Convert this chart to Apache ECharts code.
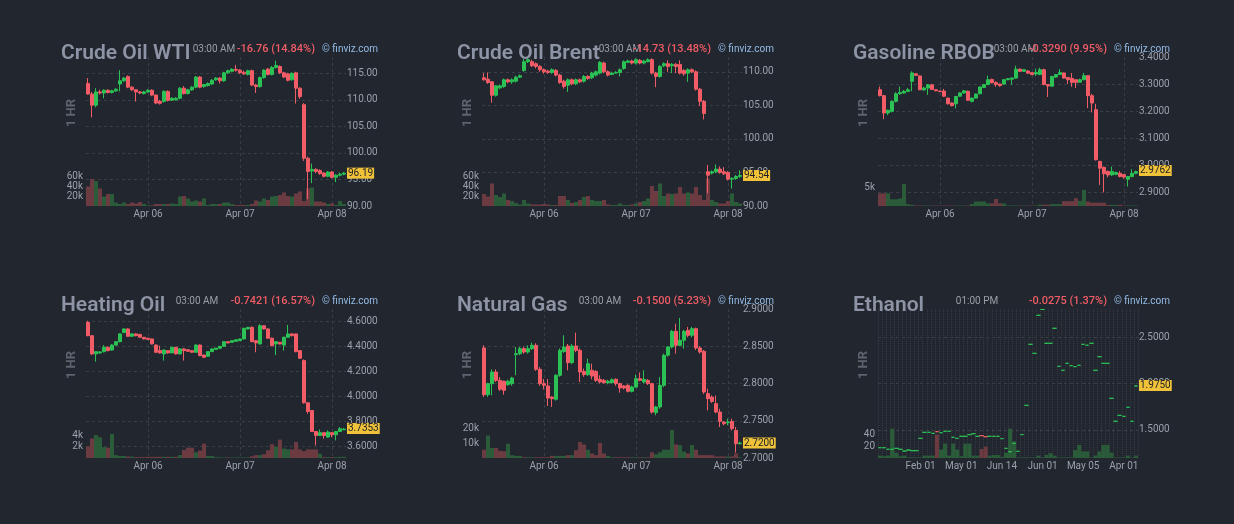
<!DOCTYPE html>
<html>
<head>
<meta charset="utf-8">
<title>Energy futures</title>
<script src="https://cdn.jsdelivr.net/npm/echarts@6.0.0/dist/echarts.min.js"></script>
<style>
  html, body { margin: 0; padding: 0; background: #22262e; }
  #chart { width: 1234px; height: 524px; }
</style>
</head>
<body>
<div id="chart"></div>
<script>
// hourly candles [open, close, low, high]
const wtiOhlc = [
  [113.1,111.1,111.0,114.1],[111.1,109.0,106.7,111.5],[109.0,111.5,108.6,112.2],[111.5,111.3,111.0,111.9],
  [111.3,111.8,110.3,112.0],[111.8,111.4,111.2,112.0],[111.4,111.7,111.2,111.9],[111.7,112.0,111.5,112.2],
  [113.0,113.6,111.6,115.6],[113.6,114.1,113.4,114.3],[114.4,112.4,112.2,114.6],[112.4,111.9,111.7,112.6],
  [111.9,111.5,109.7,112.0],[111.5,111.3,111.1,111.7],[111.2,111.5,111.0,111.7],[111.5,111.8,111.3,112.0],
  [111.8,110.9,110.7,112.0],[110.9,109.4,109.2,111.0],[109.7,109.35,109.1,110.0],[109.7,111.6,109.5,111.8],
  [111.6,109.9,109.7,111.8],[109.95,110.3,109.8,110.5],[110.0,110.3,109.9,110.5],[110.3,112.2,110.1,112.4],
  [112.2,111.2,111.0,112.6],[111.2,111.9,111.0,112.1],[111.9,112.4,111.7,112.6],[112.4,114.3,112.2,114.5],
  [114.3,112.4,112.2,114.5],[112.5,112.9,112.3,113.0],[112.7,113.1,112.5,113.3],[113.0,113.7,112.8,113.9],
  [113.8,114.1,113.6,114.3],[114.1,113.6,113.1,114.3],[113.6,115.1,113.4,115.3],[115.1,115.5,114.9,115.7],
  [115.4,115.75,115.2,116.0],[115.75,115.6,115.3,116.6],[115.6,115.1,114.9,115.8],[115.2,114.9,114.7,115.5],
  [114.8,115.5,114.6,115.7],[115.5,112.8,112.6,115.7],[112.8,112.5,111.3,113.0],[112.5,114.2,112.3,114.4],
  [114.2,115.6,114.0,115.8],[115.8,114.8,114.6,116.0],[114.8,116.1,114.6,116.4],[116.1,116.5,115.9,117.4],
  [116.3,115.1,114.9,116.5],[115.1,114.3,114.1,115.3],[114.9,113.7,113.5,115.1],[113.8,115.0,113.6,115.2],
  [115.1,112.2,109.3,115.3],[112.2,110.6,110.2,112.4],[109.1,99.0,98.5,109.4],[99.0,96.5,91.3,99.3],
  [96.6,96.9,94.3,98.0],[96.9,96.5,96.2,97.1],[96.7,96.1,95.9,96.9],[96.2,95.6,95.4,96.4],
  [95.6,96.4,95.4,96.6],[96.4,95.4,95.2,96.6],[95.4,95.8,94.5,96.0],[95.8,96.0,95.6,96.3],
  [96.0,96.19,95.8,96.4]
];
const wtiVolume = [
  39000,54000,50000,35000,19000,24000,24000,7000,4000,7000,4000,7000,5000,8000,4000,1500,
  1500,4000,4000,4000,4000,5000,4000,19000,20000,15000,9000,11000,9000,15000,2000,4000,
  4000,4000,7000,7000,4000,2000,2000,2000,2000,4000,11000,9000,15000,12000,19000,20000,
  22000,27000,20000,19000,25000,29000,10000,35000,37000,9000,9000,7000,4000,5000,2000,10000,
  4000
];

const brentOhlc = [
  [109.1,108.8,108.7,109.8],[108.9,108.4,108.2,109.9],[108.5,106.5,105.4,108.6],[106.5,107.9,106.3,108.0],
  [107.6,107.9,107.4,108.1],[107.8,108.8,107.6,109.0],[108.8,108.5,108.3,109.0],[108.5,108.8,108.2,109.0],
  [108.6,109.2,108.4,109.4],[109.2,109.4,109.1,109.6],[110.2,111.5,110.0,111.9],[111.5,111.8,111.3,112.0],
  [111.5,110.9,110.7,111.8],[111.2,110.8,110.5,111.4],[110.8,110.3,110.0,111.0],[110.3,110.0,109.7,110.5],
  [110.1,109.9,109.7,110.3],[109.9,110.3,109.7,110.5],[110.2,109.5,109.3,110.4],[109.5,108.4,108.2,109.7],
  [108.6,107.8,107.5,108.8],[108.0,108.8,107.0,109.0],[108.8,108.2,108.0,109.0],[108.2,108.8,108.0,109.0],
  [108.8,108.5,108.3,109.0],[108.6,109.3,108.4,109.5],[109.3,109.0,108.8,109.5],[109.1,109.8,108.9,110.0],
  [109.5,110.0,109.3,110.2],[109.8,111.4,109.6,111.6],[111.3,110.0,109.8,111.5],[110.0,109.5,109.3,110.2],
  [109.6,109.8,109.5,110.0],[109.8,109.9,109.7,110.1],[109.9,110.3,109.3,110.5],[110.5,111.5,110.3,111.7],
  [111.4,111.6,111.3,111.8],[111.6,111.3,111.1,111.8],[111.3,111.8,111.1,112.0],[111.7,111.3,111.1,111.9],
  [111.3,111.6,111.1,111.8],[111.5,111.8,111.4,112.0],[111.8,109.8,109.6,112.0],[109.8,109.3,107.7,110.0],
  [109.3,110.8,109.1,111.0],[110.9,111.2,110.7,111.4],[111.2,110.8,110.0,111.7],[110.9,111.1,109.8,111.3],
  [111.1,110.8,109.8,111.3],[111.1,109.8,109.6,111.7],[110.2,109.7,109.4,110.4],[109.8,110.3,108.5,110.5],
  [110.3,110.0,109.8,110.5],[110.0,107.4,107.2,110.2],[107.4,105.6,104.9,107.6],[105.6,103.8,102.9,105.8],
  [95.1,94.6,91.9,96.1],[94.9,95.1,94.7,95.3],[95.1,95.5,94.9,96.2],[95.5,95.0,94.8,95.9],
  [95.1,94.8,94.6,95.8],[95.0,94.0,93.8,95.2],[94.0,94.1,92.6,94.3],[94.1,94.4,93.9,94.6],
  [94.4,94.54,94.2,95.3]
];
const brentVolume = [
  24000,19000,45000,22000,18000,25000,12000,10000,6000,3000,12000,5000,3000,3000,3000,4000,
  3000,2000,2000,20000,20000,12000,6000,8000,12000,18000,20000,12000,10000,10000,12000,3000,
  2000,2000,5000,2000,2000,3000,5000,8000,10000,15000,40000,30000,45000,20000,25000,24000,
  25000,38000,25000,27000,25000,38000,22000,12000,55000,12000,8000,5000,5000,10000,25000,8000,
  5000
];

const gasolineOhlc = [
  [3.279,3.257,3.254,3.291],[3.257,3.193,3.170,3.260],[3.193,3.203,3.185,3.205],[3.199,3.236,3.195,3.240],
  [3.236,3.264,3.232,3.270],[3.264,3.269,3.260,3.291],[3.267,3.273,3.264,3.278],[3.273,3.279,3.270,3.285],
  [3.310,3.341,3.273,3.347],[3.338,3.332,3.330,3.340],[3.330,3.279,3.277,3.332],[3.278,3.285,3.276,3.290],
  [3.285,3.297,3.260,3.300],[3.297,3.280,3.278,3.300],[3.279,3.275,3.273,3.281],[3.274,3.272,3.270,3.276],
  [3.274,3.255,3.252,3.282],[3.248,3.227,3.224,3.250],[3.230,3.220,3.218,3.232],[3.227,3.254,3.210,3.256],
  [3.255,3.267,3.253,3.270],[3.267,3.275,3.264,3.278],[3.273,3.240,3.238,3.276],[3.236,3.248,3.232,3.250],
  [3.248,3.263,3.246,3.265],[3.264,3.289,3.262,3.292],[3.287,3.298,3.285,3.300],[3.298,3.316,3.296,3.331],
  [3.317,3.305,3.302,3.320],[3.306,3.298,3.290,3.310],[3.300,3.294,3.290,3.302],[3.300,3.316,3.298,3.318],
  [3.316,3.320,3.314,3.322],[3.318,3.322,3.297,3.325],[3.322,3.355,3.320,3.368],[3.355,3.347,3.345,3.358],
  [3.347,3.353,3.345,3.356],[3.348,3.340,3.338,3.352],[3.342,3.335,3.333,3.345],[3.337,3.343,3.330,3.357],
  [3.335,3.353,3.333,3.360],[3.353,3.298,3.296,3.357],[3.298,3.293,3.252,3.300],[3.292,3.328,3.290,3.330],
  [3.326,3.335,3.322,3.337],[3.335,3.343,3.333,3.355],[3.341,3.322,3.320,3.343],[3.324,3.316,3.300,3.326],
  [3.321,3.306,3.290,3.341],[3.316,3.306,3.285,3.318],[3.307,3.316,3.305,3.320],[3.316,3.331,3.314,3.341],
  [3.331,3.257,3.211,3.333],[3.257,3.230,3.195,3.264],[3.205,3.020,3.017,3.227],[3.014,2.989,2.927,3.016],
  [2.992,2.968,2.899,2.995],[2.977,2.964,2.955,2.980],[2.964,2.977,2.960,2.995],[2.966,2.973,2.963,2.976],
  [2.970,2.958,2.955,2.978],[2.965,2.956,2.950,2.967],[2.948,2.958,2.921,2.960],[2.958,2.970,2.955,2.985],
  [2.970,2.9762,2.966,2.980]
];
const gasolineVolume = [
  3400,3400,3400,1800,1800,2000,5900,500,300,150,150,150,150,100,100,100,
  100,120,120,120,120,120,150,500,1200,1200,1200,700,700,1900,700,700,
  150,150,120,120,120,120,120,120,350,350,350,500,500,500,1300,1300,
  1300,2100,1400,4300,1200,900,900,900,900,300,300,300,300,120,120,120,
  120
];

const heatingOhlc = [
  [4.592,4.485,4.480,4.605],[4.485,4.339,4.330,4.490],[4.339,4.357,4.277,4.360],[4.347,4.355,4.340,4.360],
  [4.357,4.392,4.350,4.410],[4.392,4.365,4.360,4.400],[4.370,4.410,4.365,4.415],[4.410,4.437,4.405,4.440],
  [4.437,4.499,4.430,4.505],[4.510,4.539,4.505,4.545],[4.539,4.480,4.475,4.545],[4.480,4.499,4.475,4.505],
  [4.499,4.485,4.480,4.505],[4.495,4.472,4.470,4.500],[4.472,4.459,4.455,4.475],[4.465,4.455,4.450,4.468],
  [4.459,4.419,4.415,4.462],[4.410,4.352,4.345,4.415],[4.365,4.347,4.340,4.405],[4.339,4.370,4.285,4.375],
  [4.365,4.347,4.340,4.370],[4.347,4.392,4.345,4.395],[4.392,4.339,4.335,4.395],[4.339,4.379,4.335,4.385],
  [4.379,4.365,4.285,4.385],[4.372,4.360,4.355,4.375],[4.365,4.352,4.348,4.370],[4.352,4.410,4.350,4.415],
  [4.410,4.325,4.320,4.415],[4.330,4.312,4.305,4.333],[4.320,4.357,4.315,4.360],[4.357,4.379,4.355,4.382],
  [4.375,4.385,4.372,4.388],[4.384,4.400,4.380,4.402],[4.400,4.437,4.395,4.440],[4.437,4.427,4.425,4.440],
  [4.432,4.445,4.430,4.448],[4.440,4.452,4.437,4.455],[4.445,4.459,4.442,4.460],[4.459,4.544,4.455,4.548],
  [4.539,4.552,4.535,4.555],[4.552,4.437,4.435,4.560],[4.445,4.427,4.352,4.450],[4.419,4.565,4.415,4.579],
  [4.565,4.539,4.535,4.570],[4.539,4.465,4.460,4.545],[4.465,4.405,4.400,4.470],[4.419,4.437,4.330,4.440],
  [4.432,4.419,4.415,4.435],[4.410,4.472,4.365,4.478],[4.472,4.499,4.470,4.572],[4.499,4.485,4.480,4.505],
  [4.499,4.357,4.352,4.502],[4.365,4.304,4.300,4.370],[4.285,3.947,3.940,4.295],[3.947,3.877,3.859,3.950],
  [3.885,3.717,3.712,3.888],[3.717,3.685,3.605,3.720],[3.685,3.707,3.680,3.733],[3.707,3.685,3.659,3.710],
  [3.672,3.712,3.665,3.725],[3.707,3.691,3.672,3.710],[3.691,3.717,3.645,3.720],[3.717,3.739,3.715,3.752],
  [3.730,3.7353,3.728,3.745]
];
const heatingVolume = [
  2000,3400,4000,3600,1900,1800,4200,500,350,350,250,250,150,150,150,200,
  200,200,200,200,200,200,200,500,1400,1800,1800,1000,1300,2500,350,350,
  150,100,100,100,100,100,100,100,100,300,500,500,650,1350,2400,2000,
  3200,1650,1500,1500,2800,1500,1200,1500,1500,1500,750,150,150,150,150,200,
  200
];

const gasOhlc = [
  [2.8477,2.7850,2.7820,2.8512],[2.7850,2.7998,2.7820,2.8010],[2.7998,2.8154,2.7840,2.8190],[2.8154,2.8042,2.8020,2.8190],
  [2.8042,2.7922,2.7900,2.8087],[2.8030,2.7908,2.7850,2.8040],[2.7985,2.8030,2.7970,2.8050],[2.7998,2.8074,2.7970,2.8090],
  [2.8387,2.8400,2.8110,2.8490],[2.8400,2.8468,2.8380,2.8490],[2.8468,2.8423,2.8400,2.8495],[2.8423,2.8468,2.8400,2.8512],
  [2.8468,2.8512,2.8450,2.8550],[2.8512,2.8190,2.8170,2.8540],[2.8190,2.7998,2.7970,2.8220],[2.7998,2.7975,2.7920,2.8060],
  [2.7967,2.7805,2.7698,2.8060],[2.7818,2.7796,2.7685,2.7830],[2.7788,2.8110,2.7770,2.8125],[2.8110,2.8445,2.8090,2.8470],
  [2.8430,2.8490,2.8410,2.8647],[2.8503,2.8280,2.8177,2.8530],[2.8280,2.8503,2.8260,2.8530],[2.8503,2.8445,2.8420,2.8683],
  [2.8445,2.8154,2.8020,2.8470],[2.8163,2.8119,2.8090,2.8200],[2.8119,2.8266,2.8100,2.8333],[2.8177,2.8100,2.8056,2.8266],
  [2.8163,2.8042,2.8020,2.8177],[2.8056,2.8020,2.8000,2.8110],[2.8042,2.8011,2.8000,2.8060],[2.8011,2.8030,2.7990,2.8050],
  [2.8011,2.8050,2.8000,2.8070],[2.8056,2.7998,2.7970,2.8070],[2.7998,2.7940,2.7877,2.8010],[2.7967,2.7940,2.7920,2.7980],
  [2.7975,2.7895,2.7880,2.7990],[2.7895,2.7953,2.7880,2.7970],[2.7953,2.8065,2.7940,2.8120],[2.8065,2.8042,2.8030,2.8150],
  [2.8020,2.8056,2.8000,2.8177],[2.8042,2.7998,2.7980,2.8060],[2.7998,2.7617,2.7595,2.8010],[2.7610,2.7685,2.7573,2.7700],
  [2.7685,2.7975,2.7660,2.8087],[2.7975,2.8378,2.7950,2.8400],[2.8380,2.8490,2.8360,2.8500],[2.8490,2.8700,2.8470,2.8720],
  [2.8700,2.8512,2.8400,2.8803],[2.8512,2.8580,2.8500,2.8880],[2.8580,2.8700,2.8468,2.8720],[2.8714,2.8647,2.8620,2.8760],
  [2.8647,2.8736,2.8620,2.8760],[2.8736,2.8477,2.8450,2.8750],[2.8477,2.8423,2.8400,2.8503],[2.8432,2.7886,2.7860,2.8450],
  [2.7864,2.7796,2.7640,2.7931],[2.7818,2.7760,2.7740,2.7840],[2.7730,2.7617,2.7600,2.7840],[2.7617,2.7492,2.7416,2.7660],
  [2.7483,2.7460,2.7440,2.7495],[2.7474,2.7483,2.7438,2.7528],[2.7492,2.7394,2.7370,2.7528],[2.7371,2.7192,2.7072,2.7416],
  [2.7192,2.7200,2.7180,2.7220]
];
const gasVolume = [
  5500,15000,6700,6700,4800,4500,9500,1900,1400,1400,500,500,500,500,500,500,
  500,1400,1400,1400,1400,1900,1900,5200,10700,9000,5500,3000,1900,10000,3000,1400,
  500,500,500,500,500,500,500,500,500,500,3800,2400,3800,5500,5500,18600,
  9000,8600,4300,3000,8600,5500,1900,1900,1900,1900,1000,1000,1000,1000,1000,3000,
  500
];

// ethanol: one settlement per bar, drawn as a flat dash
const ethanolClose = [
  1.309,1.309,1.292,1.292,1.302,1.292,1.273,1.284,1.277,1.277,
  1.410,1.475,1.475,1.464,1.482,1.471,1.486,1.486,1.421,1.410,
  1.432,1.432,1.450,1.460,1.432,1.439,1.428,1.432,1.432,1.432,
  1.407,1.302,1.266,1.356,1.270,1.450,1.766,2.424,2.327,2.737,
  2.800,2.435,2.435,2.597,2.187,2.144,2.219,2.194,2.183,2.198,
  2.424,2.414,2.435,2.144,2.291,2.219,2.219,1.842,1.594,1.658,
  1.647,1.745,1.594,1.975
];
const ethanolDown = [14, 25, 26];
const ethanolVolume = [
  4,3,4,49,9,3,4,1,1,1,1,4,4,4,39,14,24,4,24,14,3,24,24,4,4,15,19,4,5,5,2,9,
  49,28,1,1,1,1,1,4,1,5,8,4,1,1,1,1,13,22,11,11,1,4,11,22,22,9,1,1,1,4,1,4
];

const energyTickIndex = [15, 38, 61];
const energyTickLabels = ['Apr 06', 'Apr 07', 'Apr 08'];
const ethanolTickIndex = [10, 20, 30, 40, 50, 60];
const ethanolTickLabels = ['Feb 01', 'May 01', 'Jun 14', 'Jun 01', 'May 05', 'Apr 01'];

const UP = '#2bc155';
const DOWN = '#f25c66';
const VOL_UP = '#2a5c39';
const VOL_DOWN = '#6c3b41';
const GRID_LINE = '#3a3e47';
const AXIS_TEXT = '#9ba0aa';
const TITLE_TEXT = '#8c94a5';

const panels = [
  { title: 'Crude Oil WTI', time: '03:00 AM', timeX: 214, change: '-16.76 (14.84%)', col: 0, row: 0,
    ohlc: wtiOhlc, volume: wtiVolume, min: 90, max: 118.08, split: 6, step: 5, digits: 2,
    volMax: 80000, volStep: 20000, volTop: 60000, ticks: energyTickIndex, tickLabels: energyTickLabels },
  { title: 'Crude Oil Brent', time: '03:00 AM', timeX: 620, change: '-14.73 (13.48%)', col: 1, row: 0,
    ohlc: brentOhlc, volume: brentVolume, min: 90, max: 112.2, split: 5, step: 5, digits: 2,
    volMax: 80000, volStep: 20000, volTop: 60000, ticks: energyTickIndex, tickLabels: energyTickLabels },
  { title: 'Gasoline RBOB', time: '03:00 AM', timeX: 1015, change: '-0.3290 (9.95%)', col: 2, row: 0,
    ohlc: gasolineOhlc, volume: gasolineVolume, min: 2.849, max: 3.4, split: 5, step: 0.1, digits: 4,
    volMax: 10700, volStep: 5000, volTop: 5000, ticks: energyTickIndex, tickLabels: energyTickLabels },
  { title: 'Heating Oil', time: '03:00 AM', timeX: 197, change: '-0.7421 (16.57%)', col: 0, row: 1,
    ohlc: heatingOhlc, volume: heatingVolume, min: 3.504, max: 4.699, split: 6, step: 0.2, digits: 4,
    volMax: 6960, volStep: 2000, volTop: 4000, ticks: energyTickIndex, tickLabels: energyTickLabels },
  { title: 'Natural Gas', time: '03:00 AM', timeX: 600, change: '-0.1500 (5.23%)', col: 1, row: 1,
    ohlc: gasOhlc, volume: gasVolume, min: 2.7, max: 2.9, split: 4, step: 0.05, digits: 4,
    volMax: 26670, volStep: 10000, volTop: 20000, ticks: energyTickIndex, tickLabels: energyTickLabels },
  { title: 'Ethanol', time: '01:00 PM', timeX: 977, change: '-0.0275 (1.37%)', col: 2, row: 1,
    ohlc: null, volume: ethanolVolume, min: 1.198, max: 2.805, split: 3, step: 0.5, digits: 4,
    volMax: 66.7, volStep: 20, volTop: 40, ticks: ethanolTickIndex, tickLabels: ethanolTickLabels,
    dotted: true }
];

const COL_X = [0, 396, 792];
const ROW_Y = [0, 252];

function isStep(v, step) {
  const r = v / step;
  return Math.abs(r - Math.round(r)) < 1e-6;
}

function ethanolItems() {
  return ethanolClose.map((c, i) => {
    const col = ethanolDown.includes(i) ? DOWN : UP;
    return {
      value: [c, c, c, c],
      itemStyle: { color: col, color0: col, borderColor: col, borderColor0: col, borderColorDoji: col }
    };
  });
}

const grid = [], xAxis = [], yAxis = [], series = [], graphic = [];

panels.forEach((p, k) => {
  const cx = COL_X[p.col], ry = ROW_Y[p.row];
  const left = 86 + cx, top = 57 + ry;
  const candles = p.ohlc ? p.ohlc : ethanolItems();
  const count = candles.length;
  const cats = Array.from({ length: count }, (_, i) => i);
  const lastVal = p.ohlc ? p.ohlc[count - 1][1] : ethanolClose[count - 1];

  grid.push({ left: left, top: top, width: 260, height: 149 });
  grid.push({ left: left, top: top + 109, width: 260, height: 40 });

  xAxis.push({
    type: 'category', gridIndex: 2 * k, data: cats, boundaryGap: true,
    axisLine: { show: false }, axisTick: { show: false },
    axisLabel: {
      show: true, interval: (i) => p.ticks.includes(i), margin: 3,
      color: AXIS_TEXT, fontSize: 10, fontFamily: 'Roboto',
      formatter: (v) => {
        const j = p.ticks.indexOf(Number(v));
        return j >= 0 ? p.tickLabels[j] : '';
      }
    },
    splitLine: p.dotted
      ? { show: true, interval: 0, lineStyle: { color: '#353943', type: 'dotted', width: 1 } }
      : { show: true, interval: (i) => p.ticks.includes(i), alignWithLabel: true,
          lineStyle: { color: GRID_LINE, type: [3, 3], width: 1 } }
  });
  xAxis.push({
    type: 'category', gridIndex: 2 * k + 1, data: cats, boundaryGap: true, show: false
  });

  yAxis.push({
    type: 'value', gridIndex: 2 * k, position: 'right', min: p.min, max: p.max, splitNumber: p.split,
    scale: true,
    axisLine: { show: false }, axisTick: { show: false },
    axisLabel: {
      margin: 1, color: AXIS_TEXT, fontSize: 10, fontFamily: 'Roboto',
      formatter: (v) => isStep(v, p.step) ? v.toFixed(p.digits) : ''
    },
    splitLine: { show: true, showMinLine: false, showMaxLine: false,
      lineStyle: { color: GRID_LINE, type: [3, 3], width: 1 } }
  });
  yAxis.push({
    type: 'value', gridIndex: 2 * k + 1, position: 'left', min: 0, max: p.volMax, interval: p.volStep,
    axisLine: { show: false }, axisTick: { show: false }, splitLine: { show: false },
    axisLabel: {
      margin: 3, color: AXIS_TEXT, fontSize: 10, fontFamily: 'Roboto',
      formatter: (v) => (v > 0 && v <= p.volTop + 1e-9) ? (v >= 1000 ? (v / 1000) + 'k' : String(v)) : ''
    }
  });

  series.push({
    type: 'bar', xAxisIndex: 2 * k + 1, yAxisIndex: 2 * k + 1, z: 1,
    barCategoryGap: '0%', silent: true,
    data: p.volume.map((v, i) => {
      let up;
      if (p.ohlc) up = p.ohlc[i][1] >= p.ohlc[i][0];
      else up = !ethanolDown.includes(i);
      return { value: v, itemStyle: { color: up ? VOL_UP : VOL_DOWN } };
    })
  });
  series.push({
    type: 'candlestick', xAxisIndex: 2 * k, yAxisIndex: 2 * k, z: 3,
    barWidth: p.dotted ? 4 : 3, silent: true,
    itemStyle: { color: UP, color0: DOWN, borderColor: UP, borderColor0: DOWN, borderWidth: 1 },
    data: candles,
    markLine: {
      silent: true, symbol: ['none', 'none'], animation: false,
      lineStyle: { color: 'transparent', width: 0 },
      label: {
        show: true, position: 'end', distance: 1,
        formatter: () => lastVal.toFixed(p.digits),
        backgroundColor: '#f0c23a', color: '#1b1e24', fontSize: 10, fontFamily: 'Roboto',
        padding: [1, 1, 0, 1]
      },
      data: [{ yAxis: lastVal }]
    }
  });

  // header texts
  graphic.push({
    type: 'text', x: 61 + cx, y: 54 + ry, z: 10,
    style: { text: p.title, fill: TITLE_TEXT, font: '600 21px Roboto',
      textAlign: 'left', textVerticalAlign: 'middle', align: 'left', verticalAlign: 'middle' }
  });
  graphic.push({
    type: 'text', x: p.timeX, y: 49 + ry, z: 11,
    style: { text: p.time, fill: '#9aa0a8', font: '10px Roboto',
      textAlign: 'center', textVerticalAlign: 'middle', align: 'center', verticalAlign: 'middle' }
  });
  graphic.push({
    type: 'text', x: 315 + cx, y: 49 + ry, z: 11,
    style: { text: p.change, fill: '#f05c66', font: '500 11px Roboto',
      textAlign: 'right', textVerticalAlign: 'middle', align: 'right', verticalAlign: 'middle' }
  });
  graphic.push({
    type: 'text', x: 322 + cx, y: 49 + ry, z: 11,
    style: { text: '\u00a9 finviz.com', fill: '#94bce6', font: '10px Roboto',
      textAlign: 'left', textVerticalAlign: 'middle', align: 'left', verticalAlign: 'middle' }
  });
  graphic.push({
    type: 'text', x: 72 + cx, y: 113 + ry, rotation: Math.PI / 2, z: 10,
    style: { text: '1 HR', fill: '#5d636f', font: 'bold 13px Roboto',
      textAlign: 'center', textVerticalAlign: 'middle', align: 'center', verticalAlign: 'middle' }
  });
});

const chart = echarts.init(document.getElementById('chart'), null, { renderer: 'canvas' });
chart.setOption({
  backgroundColor: '#22262e',
  animation: false,
  grid: grid,
  xAxis: xAxis,
  yAxis: yAxis,
  series: series,
  graphic: graphic
});
</script>
</body>
</html>
